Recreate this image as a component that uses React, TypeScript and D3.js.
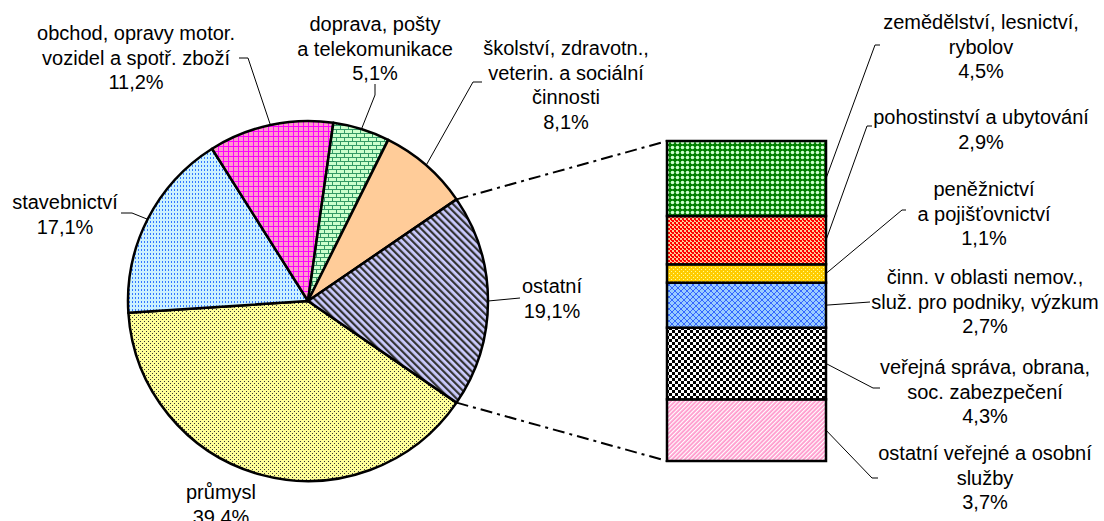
import React from 'react';
import * as d3 from 'd3';

// pie slices (clockwise, starting below the "ostatní" slice)
const pieLabels = [
  'průmysl',
  'stavebnictví',
  'obchod, opravy motor.\nvozidel a spotř. zboží',
  'doprava, pošty\na telekomunikace',
  'školství, zdravotn.,\nveterin. a sociální\nčinnosti',
  'ostatní',
];
const pieValues = [39.4, 17.1, 11.2, 5.1, 8.1, 19.1];

// breakdown of "ostatní", bottom to top
const barLabels = [
  'ostatní veřejné a osobní\nslužby',
  'veřejná správa, obrana,\nsoc. zabezpečení',
  'činn. v oblasti nemov.,\nslu\u017e. pro podniky, výzkum',
  'peněžnictví\na pojišťovnictví',
  'pohostinství a ubytování',
  'zemědělství, lesnictví,\nrybolov',
];
const barValues = [3.7, 4.3, 2.7, 1.1, 2.9, 4.5];

const pieFills = ['url(#pPrum)', 'url(#pStav)', 'url(#pObch)', 'url(#pDopr)', '#FFCC99', 'url(#pOst)'];
const barFills = ['url(#bOsob)', 'url(#bVerej)', 'url(#bNemov)', 'url(#bPenez)', 'url(#bPohost)', 'url(#bZemed)'];

// label layout: centre x, centre y of first line
const pieLabelPos = [
  [221, 492], [65, 202], [136, 33], [375, 24], [566, 48], [552, 286],
];
const pieLeaderPts: number[][][] = [
  [],
  [[121, 213], [132, 213]],
  [[239, 58], [248, 58]],
  [[375, 84], [375, 95]],
  [[482, 82], [473, 82]],
  [[520, 298]],
];
const barLabelPos = [
  [985, 453], [985, 367], [985, 277], [984, 189], [981, 117], [981, 22],
];
const barLeaderPts: number[][][] = [
  [[872, 478], [878, 478]],
  [[873, 388], [880, 388]],
  [[870, 302]],
  [[902, 210], [906, 210]],
  [[867, 126], [872, 126]],
  [[875, 45], [880, 45]],
];

const W = 1104, H = 521;
const cx = 308, cy = 301, R = 180;
const barX0 = 667, barX1 = 826;
const LH = 24.5;
const FONT = '"Liberation Sans", Arial, sans-serif';

const fmt = (v: number) => v.toFixed(1).replace('.', ',') + '%';

function Label({ text, value, x, y }: { text: string; value: number; x: number; y: number }) {
  const lines = [...text.split('\n'), fmt(value)];
  return (
    <text textAnchor="middle" fontSize={20} fontFamily={FONT} fill="#000">
      {lines.map((l, i) => (
        <tspan key={i} x={x} y={y + 7 + i * LH}>{l}</tspan>
      ))}
    </text>
  );
}

function Patterns() {
  return (
    <defs>
      <pattern id="pPrum" width={4} height={4} patternUnits="userSpaceOnUse">
        <rect width={4} height={4} fill="#FFFF99" />
        <rect x={0} y={0} width={1} height={1} fill="#333" />
        <rect x={2} y={2} width={1} height={1} fill="#333" />
      </pattern>
      <pattern id="pStav" width={3} height={4} patternUnits="userSpaceOnUse">
        <rect width={3} height={4} fill="#CCF2FF" />
        <rect x={1} y={0} width={1} height={2} fill="#3377FF" />
      </pattern>
      <pattern id="pObch" width={5} height={5} patternUnits="userSpaceOnUse">
        <rect width={5} height={5} fill="#FF99CC" />
        <rect x={0} y={0} width={1} height={5} fill="#FF00FF" />
        <rect x={0} y={0} width={5} height={1} fill="#FF00FF" />
      </pattern>
      <pattern id="pDopr" width={8} height={8} patternUnits="userSpaceOnUse">
        <rect width={8} height={8} fill="#CCFFCC" />
        <rect x={0} y={0} width={8} height={1} fill="#339966" />
        <rect x={0} y={4} width={8} height={1} fill="#339966" />
        <rect x={0} y={0} width={1} height={4} fill="#339966" />
        <rect x={4} y={4} width={1} height={4} fill="#339966" />
      </pattern>
      <pattern id="pOst" width={5} height={5} patternUnits="userSpaceOnUse" patternTransform="rotate(-45)">
        <rect width={5} height={5} fill="#CCCCFF" />
        <rect x={0} y={0} width={2.2} height={5} fill="#333" />
      </pattern>
      <pattern id="bZemed" width={5} height={5} patternUnits="userSpaceOnUse">
        <rect width={5} height={5} fill="#008000" />
        <circle cx={2.5} cy={2.5} r={1.8} fill="#CCFFCC" />
      </pattern>
      <pattern id="bPohost" width={4} height={4} patternUnits="userSpaceOnUse">
        <rect width={4} height={4} fill="#FFCC99" />
        <rect x={0} y={0} width={2} height={2} fill="#FF0000" />
        <rect x={2} y={2} width={2} height={2} fill="#FF0000" />
        <rect x={3} y={0} width={1} height={1} fill="#FF0000" />
      </pattern>
      <pattern id="bPenez" width={4} height={4} patternUnits="userSpaceOnUse">
        <rect width={4} height={4} fill="#FFCC00" />
        <rect x={1} y={1} width={1} height={1} fill="#FFFF99" />
        <rect x={3} y={3} width={1} height={1} fill="#FFFF99" />
      </pattern>
      <pattern id="bNemov" width={6} height={6} patternUnits="userSpaceOnUse">
        <rect width={6} height={6} fill="#99CCFF" />
        <path d="M0,0L6,6M6,0L0,6" stroke="#3366FF" strokeWidth={1} />
      </pattern>
      <pattern id="bVerej" width={6} height={6} patternUnits="userSpaceOnUse">
        <rect width={6} height={6} fill="#FFFFFF" />
        <rect x={0} y={0} width={3} height={3} fill="#000" />
        <rect x={3} y={3} width={3} height={3} fill="#000" />
      </pattern>
      <pattern id="bOsob" width={3} height={3} patternUnits="userSpaceOnUse" patternTransform="rotate(45)">
        <rect width={3} height={3} fill="#FF99CC" />
        <rect x={0} y={0} width={1.2} height={3} fill="#FFFFFF" />
      </pattern>
    </defs>
  );
}

export default function App() {
  const total = d3.sum(pieValues);
  const f = pieValues[pieValues.length - 1] / total;
  // centre the "ostatní" slice on the right-hand side
  const start = Math.PI / 2 + f * Math.PI;
  const arcs = d3.pie<number>().sort(null).startAngle(start).endAngle(start + 2 * Math.PI)(pieValues);
  const arcGen = d3.arc<d3.PieArcDatum<number>>().innerRadius(0).outerRadius(R);
  const pt = (a: number) => [cx + R * Math.sin(a), cy - R * Math.cos(a)];

  const y = d3.scaleLinear().domain([0, d3.sum(barValues)]).range([461, 141]);
  const cum = [0, ...Array.from(d3.cumsum(barValues))];

  const other = arcs[arcs.length - 1];
  const pTop = pt(other.startAngle);
  const pBot = pt(other.endAngle);
  const line = d3.line();

  return (
    <div style={{ position: 'absolute', left: 0, top: 0 }}>
      <svg width={W} height={H} style={{ display: 'block', background: '#fff' }}>
        <Patterns />
        {arcs.map((a, i) => (
          <path key={i} d={arcGen(a) || ''} transform={`translate(${cx},${cy})`}
            fill={pieFills[i]} stroke="#000" strokeWidth={2.5} strokeLinejoin="round" />
        ))}
        {/* connectors pie -> bar */}
        <path d={line([pTop as [number, number], [barX0, y(cum[cum.length - 1])]]) || ''}
          stroke="#000" strokeWidth={2} strokeDasharray="12,5,3,5" fill="none" />
        <path d={line([pBot as [number, number], [barX0, y(0)]]) || ''}
          stroke="#000" strokeWidth={2} strokeDasharray="12,5,3,5" fill="none" />
        {barValues.map((v, i) => (
          <rect key={i} x={barX0} width={barX1 - barX0} y={y(cum[i + 1])} height={y(cum[i]) - y(cum[i + 1])}
            fill={barFills[i]} stroke="#000" strokeWidth={2.5} />
        ))}
        {/* leader lines */}
        {arcs.map((a, i) => {
          if (!pieLeaderPts[i].length) return null;
          const m = pt((a.startAngle + a.endAngle) / 2);
          const pts = [...pieLeaderPts[i], m] as [number, number][];
          return <path key={'pl' + i} d={line(pts) || ''} stroke="#000" strokeWidth={1} fill="none" />;
        })}
        {barValues.map((v, i) => {
          const m: [number, number] = [barX1, y((cum[i] + cum[i + 1]) / 2)];
          const pts = [m, ...barLeaderPts[i]] as [number, number][];
          return <path key={'bl' + i} d={line(pts) || ''} stroke="#000" strokeWidth={1} fill="none" />;
        })}
        {pieLabels.map((l, i) => (
          <Label key={'p' + i} text={l} value={pieValues[i]} x={pieLabelPos[i][0]} y={pieLabelPos[i][1]} />
        ))}
        {barLabels.map((l, i) => (
          <Label key={'b' + i} text={l} value={barValues[i]} x={barLabelPos[i][0]} y={barLabelPos[i][1]} />
        ))}
      </svg>
    </div>
  );
}
